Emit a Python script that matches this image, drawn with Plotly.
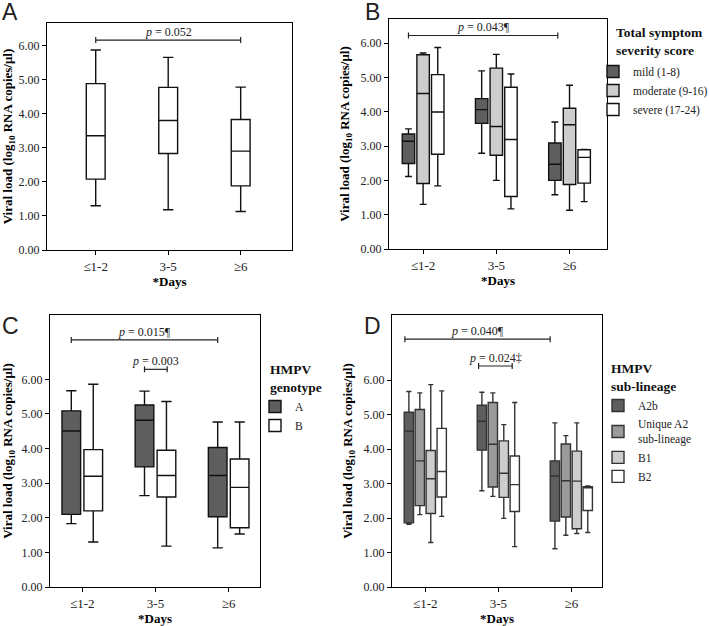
import plotly.graph_objects as go

days = ["≤1-2", "3-5", "≥6"]

# ---- Panel A: all patients ----
a_low = [1.30, 1.18, 1.13]
a_q1 = [2.08, 2.83, 1.88]
a_med = [3.35, 3.80, 2.90]
a_q3 = [4.88, 4.77, 3.83]
a_high = [5.87, 5.65, 4.78]

# ---- Panel B: symptom severity ----
mild_low = [2.11, 2.79, 1.58]
mild_q1 = [2.49, 3.66, 2.00]
mild_med = [3.14, 4.06, 2.47]
mild_q3 = [3.35, 4.38, 3.09]
mild_high = [3.50, 5.19, 3.70]

moderate_low = [1.30, 2.00, 1.13]
moderate_q1 = [1.91, 2.73, 1.88]
moderate_med = [4.53, 3.57, 3.62]
moderate_q3 = [5.66, 5.27, 4.10]
moderate_high = [5.71, 5.67, 4.77]

severe_low = [1.84, 1.17, 1.38]
severe_q1 = [2.76, 1.53, 1.92]
severe_med = [3.99, 3.19, 2.67]
severe_q3 = [5.08, 4.71, 2.89]
severe_high = [5.87, 5.10, 2.90]

# ---- Panel C: genotype ----
gA_low = [1.83, 2.64, 1.13]
gA_q1 = [2.10, 3.47, 2.03]
gA_med = [4.51, 4.82, 3.22]
gA_q3 = [5.09, 5.26, 4.03]
gA_high = [5.67, 5.66, 4.77]

gB_low = [1.30, 1.18, 1.53]
gB_q1 = [2.20, 2.60, 1.71]
gB_med = [3.20, 3.22, 2.88]
gB_q3 = [3.97, 3.95, 3.70]
gB_high = [5.86, 5.36, 4.77]

# ---- Panel D: sub-lineage ----
a2b_low = [1.82, 2.79, 1.11]
a2b_q1 = [1.86, 3.97, 1.91]
a2b_med = [4.52, 4.81, 3.22]
a2b_q3 = [5.07, 5.27, 3.66]
a2b_high = [5.67, 5.65, 4.76]

uniq_low = [2.10, 2.63, 1.50]
uniq_q1 = [2.36, 2.90, 2.03]
uniq_med = [3.66, 4.14, 3.08]
uniq_q3 = [5.15, 5.35, 4.15]
uniq_high = [5.63, 5.63, 4.39]

b1_low = [1.29, 1.99, 1.55]
b1_q1 = [2.13, 2.60, 1.69]
b1_med = [3.14, 3.30, 3.07]
b1_q3 = [3.96, 4.24, 3.94]
b1_high = [5.87, 4.71, 4.76]

b2_low = [2.05, 1.17, 1.58]
b2_q1 = [2.61, 2.19, 2.22]
b2_med = [3.35, 2.97, 2.88]
b2_q3 = [4.60, 3.80, 2.91]
b2_high = [5.69, 5.35, 2.93]

y_ticks = [0, 1, 2, 3, 4, 5, 6]

legend_titles = {
    "legend2": "<b>Total symptom<br>severity score</b>",
    "legend3": "<b>HMPV<br>genotype</b>",
    "legend4": "<b>HMPV<br>sub-lineage</b>",
}

# comparisons: (axis suffix, from (cat index, offset), to (cat index, offset), level, label)
brackets = [
    ("", (0, 0.0), (2, 0.0), 6.16, "<i>p</i> = 0.052"),
    ("2", (0, -0.2), (2, -0.16), 6.22, "<i>p</i> = 0.043¶"),
    ("3", (0, -0.15), (2, -0.15), 7.14, "<i>p</i> = 0.015¶"),
    ("3", (1, -0.15), (1, 0.16), 6.29, "<i>p</i> = 0.003"),
    ("4", (0, -0.28), (2, -0.29), 7.19, "<i>p</i> = 0.040¶"),
    ("4", (1, -0.27), (1, 0.19), 6.41, "<i>p</i> = 0.024‡"),
]

DARK = "#5e5e5e"
MID = "#9b9b9b"
LIGHT = "#cdcdcd"
WHITE = "#ffffff"
SERIF = "Liberation Serif"

W, H = 709, 626

fig = go.Figure()


def add_box(name, ax, low, q1, med, q3, high, fill, legend=None, show=False, width=None, line="#111111"):
    fig.add_trace(go.Box(
        x=days, lowerfence=low, q1=q1, median=med, q3=q3, upperfence=high,
        name=name, xaxis="x" + ax, yaxis="y" + ax, fillcolor=fill,
        alignmentgroup="panel" + ax, offsetgroup=name,
        line=dict(color=line, width=1.4), boxpoints=False, whiskerwidth=0.55,
        legend=legend, showlegend=show, width=width, hoverinfo="skip"))


add_box("all", "", a_low, a_q1, a_med, a_q3, a_high, WHITE, width=0.26)

add_box("mild (1-8)", "2", mild_low, mild_q1, mild_med, mild_q3, mild_high, DARK, "legend2", True)
add_box("moderate (9-16)", "2", moderate_low, moderate_q1, moderate_med, moderate_q3, moderate_high, LIGHT, "legend2", True)
add_box("severe (17-24)", "2", severe_low, severe_q1, severe_med, severe_q3, severe_high, WHITE, "legend2", True)

add_box("A", "3", gA_low, gA_q1, gA_med, gA_q3, gA_high, DARK, "legend3", True)
add_box("B", "3", gB_low, gB_q1, gB_med, gB_q3, gB_high, WHITE, "legend3", True)

add_box("A2b", "4", a2b_low, a2b_q1, a2b_med, a2b_q3, a2b_high, DARK, "legend4", True, line="#333333")
add_box("Unique A2<br>sub-lineage", "4", uniq_low, uniq_q1, uniq_med, uniq_q3, uniq_high, MID, "legend4", True, line="#333333")
add_box("B1", "4", b1_low, b1_q1, b1_med, b1_q3, b1_high, LIGHT, "legend4", True, line="#333333")
add_box("B2", "4", b2_low, b2_q1, b2_med, b2_q3, b2_high, WHITE, "legend4", True, line="#333333")


def xdom(l, r):
    return [l / W, r / W]


def ydom(t, b):
    return [1 - b / H, 1 - t / H]


panels = {
    "": dict(px=(47, 292), py=(23, 250), xr=[-0.672, 2.708], yr=[0, 6.66]),
    "2": dict(px=(389, 607), py=(19, 249), xr=[-0.466, 2.512], yr=[0, 6.70]),
    "3": dict(px=(50, 260), py=(315, 587), xr=[-0.441, 2.428], yr=[0, 7.86]),
    "4": dict(px=(392, 602), py=(315, 587), xr=[-0.456, 2.42], yr=[0, 7.89]),
}

ytitle = "<b>Viral load (log<sub>10</sub> RNA copies/μl)</b>"
layout = dict(
    width=W, height=H, margin=dict(l=0, r=0, t=0, b=0, autoexpand=False),
    paper_bgcolor="white", plot_bgcolor="white",
    boxmode="group", boxgap=0.4, boxgroupgap=0.15,
    font=dict(family=SERIF, size=12, color="black"),
)
for k, p in panels.items():
    layout["xaxis" + k] = dict(
        domain=xdom(*p["px"]), anchor="y" + k, type="category",
        categoryorder="array", categoryarray=days, range=p["xr"],
        showline=True, mirror=True, linecolor="black", linewidth=1.3,
        ticks="outside", ticklen=4, tickcolor="black", tickwidth=1.3,
        showgrid=False, zeroline=False,
        tickfont=dict(family=SERIF, size=13, color="#222"),
        title=dict(text="<b>*Days</b>", font=dict(family=SERIF, size=13), standoff=1),
    )
    layout["yaxis" + k] = dict(
        domain=ydom(*p["py"]), anchor="x" + k, range=p["yr"],
        tickvals=y_ticks, tickformat=".2f",
        showline=True, mirror=True, linecolor="black", linewidth=1.3,
        ticks="outside", ticklen=4, tickcolor="black", tickwidth=1.3,
        showgrid=False, zeroline=False,
        tickfont=dict(family=SERIF, size=12, color="#222"),
        title=dict(text=ytitle, font=dict(family=SERIF, size=13), standoff=7),
    )

leg_common = dict(
    bgcolor="rgba(0,0,0,0)", font=dict(family=SERIF, size=11.5, color="#222"),
    xanchor="left", yanchor="top", tracegroupgap=0, itemwidth=30,
)
layout["legend2"] = dict(leg_common, x=593 / W, y=1 - 57 / H)
layout["legend3"] = dict(leg_common, x=255 / W, y=1 - 392 / H)
layout["legend4"] = dict(leg_common, x=598 / W, y=1 - 391 / H)
fig.update_layout(**layout)

shapes = []
annotations = []
for ax, (c0, o0), (c1, o1), level, label in brackets:
    x0 = c0 + o0
    x1 = c1 + o1
    shapes.append(dict(type="line", xref="x" + ax, yref="y" + ax, x0=x0, x1=x1, y0=level, y1=level,
                       line=dict(color="#222", width=1.2)))
    for xe in (x0, x1):
        shapes.append(dict(type="line", xref="x" + ax, yref="y" + ax, x0=xe, x1=xe,
                           ysizemode="pixel", yanchor=level, y0=-3, y1=3,
                           line=dict(color="#222", width=1.2)))
    annotations.append(dict(xref="x" + ax, yref="y" + ax, x=(x0 + x1) / 2, y=level,
                            text=label, showarrow=False, yanchor="bottom", yshift=-1,
                            font=dict(family=SERIF, size=12, color="#222")))

# legend titles
for key, xp, yp in [("legend2", 614, 41.5), ("legend3", 268, 378), ("legend4", 609, 377)]:
    annotations.append(dict(xref="paper", yref="paper", x=xp / W, y=1 - yp / H,
                            text=legend_titles[key], showarrow=False, align="left",
                            xanchor="left", yanchor="middle",
                            font=dict(family=SERIF, size=13.5, color="#111")))

for letter, xp, yp in [("A", 10, 12), ("B", 372, 12), ("C", 10, 326), ("D", 372, 326)]:
    annotations.append(dict(xref="paper", yref="paper", x=xp / W, y=1 - yp / H, text=letter,
                            showarrow=False, xanchor="center", yanchor="middle",
                            font=dict(family="Liberation Sans", size=23, color="#222")))

fig.update_layout(shapes=shapes, annotations=annotations)
fig.write_html("out.html", config={"displayModeBar": False},
               post_script="document.body.style.margin='0';document.body.style.overflow='hidden';")
